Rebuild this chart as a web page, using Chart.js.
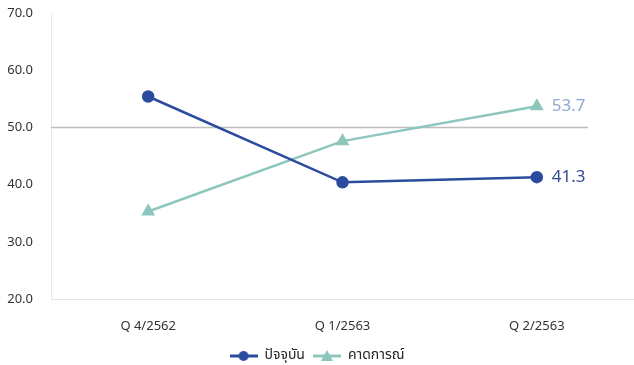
<!DOCTYPE html>
<html>
<head>
<meta charset="utf-8">
<script src="https://cdn.jsdelivr.net/npm/chart.js@4.4.0/dist/chart.umd.min.js"></script>
<style>
  html, body { margin: 0; padding: 0; background: #fff; overflow: hidden; }
  #wrap { width: 634px; height: 365px; }
  canvas { display: block; }
</style>
</head>
<body>
<div id="wrap"><canvas id="canvas"></canvas></div>
<script>
// data
const quarters = ['Q 4/2562', 'Q 1/2563', 'Q 2/2563'];
const current = [55.4, 40.4, 41.3];     // ปัจจุบัน
const expected = [35.3, 47.6, 53.7];    // คาดการณ์
const yTicks = [20, 30, 40, 50, 60, 70];
const refLevel = 50;

const blue = '#2B4B9E';
const teal = '#8CC6BC';
const thaiFont = "'Noto Sans Thai', 'Noto Sans', 'DejaVu Sans', sans-serif";

// legend marker: short line with the point in the middle
function legendIcon(color, shape) {
    const c = document.createElement('canvas');
    c.width = 28; c.height = 12;
    const g = c.getContext('2d');
    g.strokeStyle = color; g.fillStyle = color; g.lineWidth = 3;
    g.beginPath(); g.moveTo(0, 6); g.lineTo(28, 6); g.stroke();
    g.beginPath();
    if (shape === 'circle') {
        g.arc(14, 6, 5, 0, Math.PI * 2);
    } else {
        g.moveTo(14, 0); g.lineTo(20, 11); g.lineTo(8, 11); g.closePath();
    }
    g.fill();
    return c;
}

// grey line at 50 + value labels at the last point
const extras = {
    id: 'extras',
    afterUpdate(chart) {
        // legend sits a bit right of centre in the original
        if (chart.legend && chart.legend.legendHitBoxes) {
            chart.legend.legendHitBoxes.forEach(b => { b.left += 14; });
        }
    },
    beforeDatasetsDraw(chart) {
        const { ctx, scales: { x, y }, chartArea } = chart;
        const yy = y.getPixelForValue(refLevel);
        ctx.save();
        ctx.strokeStyle = '#BDBDBD';
        ctx.lineWidth = 1.5;
        ctx.beginPath();
        ctx.moveTo(chartArea.left, yy);
        ctx.lineTo(x.getPixelForValue(2) + 51, yy);
        ctx.stroke();
        ctx.restore();
    },
    afterDatasetsDraw(chart) {
        const { ctx } = chart;
        const cols = ['#2F4D8F', '#8EA8D4'];
        ctx.save();
        ctx.font = "17px 'Noto Sans', 'DejaVu Sans', sans-serif";
        ctx.textBaseline = 'middle';
        chart.data.datasets.forEach((ds, i) => {
            const pts = chart.getDatasetMeta(i).data;
            const p = pts[pts.length - 1];
            const v = ds.data[ds.data.length - 1];
            ctx.fillStyle = cols[i];
            ctx.fillText(v.toFixed(1), p.x + 15, p.y);
        });
        ctx.restore();
    }
};

var ctx = document.getElementById('canvas').getContext('2d');
var myChart = new Chart(ctx, {
    type: 'line',
    data: {
        labels: quarters,
        datasets: [{
            label: 'ปัจจุบัน',
            data: current,
            borderColor: blue,
            backgroundColor: blue,
            borderWidth: 2.5,
            pointStyle: 'circle',
            pointRadius: 5,
            pointHoverRadius: 5,
            tension: 0
        }, {
            label: 'คาดการณ์',
            data: expected,
            borderColor: teal,
            backgroundColor: teal,
            borderWidth: 2.5,
            pointStyle: 'triangle',
            pointRadius: 5.5,
            pointHoverRadius: 5.5,
            tension: 0
        }]
    },
    options: {
        responsive: true,
        maintainAspectRatio: false,
        animation: false,
        layout: { autoPadding: false, padding: { top: 13, right: 0, left: 0, bottom: -8 } },
        scales: {
            x: {
                offset: true,
                grid: { display: false, drawTicks: false },
                border: { display: true, color: '#E3E3E3', width: 1 },
                ticks: {
                    color: '#333',
                    font: { family: "'Noto Sans', 'DejaVu Sans', sans-serif", size: 13 },
                    padding: 19
                },
                afterFit(s) { s.height = 42; s.paddingLeft = 0; s.paddingRight = 0; }
            },
            y: {
                min: 20,
                max: 70,
                afterBuildTicks(s) { s.ticks = yTicks.map(v => ({ value: v })); },
                grid: { display: false, drawTicks: false },
                border: { display: true, color: '#E8E8E8', width: 1 },
                ticks: {
                    color: '#333',
                    font: { family: "'Noto Sans', 'DejaVu Sans', sans-serif", size: 13 },
                    padding: 18,
                    callback: v => Number(v).toFixed(1)
                },
                afterFit(s) { s.width = 51; s.paddingTop = 0; s.paddingBottom = 0; }
            }
        },
        plugins: {
            legend: {
                position: 'bottom',
                labels: {
                    usePointStyle: true,
                    pointStyleWidth: 28,
                    boxHeight: 12,
                    color: '#222',
                    font: { family: thaiFont, size: 14 },
                    padding: 8,
                    generateLabels(chart) {
                        return chart.data.datasets.map((ds, i) => ({
                            text: ds.label,
                            pointStyle: legendIcon(ds.borderColor, i === 0 ? 'circle' : 'triangle'),
                            fillStyle: ds.borderColor,
                            strokeStyle: ds.borderColor,
                            lineWidth: 0,
                            datasetIndex: i,
                            fontColor: '#222'
                        }));
                    }
                }
            },
            tooltip: { enabled: false }
        }
    },
    plugins: [extras]
});
</script>
</body>
</html>
